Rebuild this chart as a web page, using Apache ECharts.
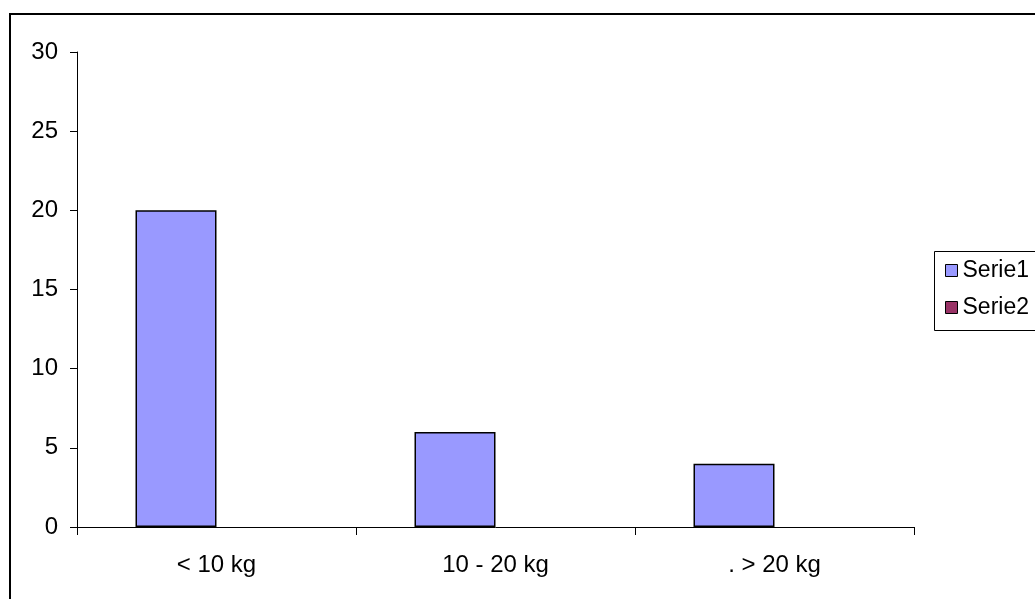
<!DOCTYPE html>
<html>
<head>
<meta charset="utf-8">
<script src="https://cdn.jsdelivr.net/npm/echarts@6/dist/echarts.min.js"></script>
<style>html,body{margin:0;padding:0;background:#fff;}#c{width:1035px;height:599px;}</style>
</head>
<body>
<div id="c"></div>
<script>
const categories = ['< 10 kg', '10 - 20 kg', '. > 20 kg'];
const serie1 = [20, 6, 4];
const serie2 = [0, 0, 0];
const seriesNames = ['Serie1', 'Serie2'];

const FONT = 'Liberation Sans, Arial, sans-serif';
const chart = echarts.init(document.getElementById('c'), null, {renderer: 'canvas'});
chart.setOption({
  animation: false,
  backgroundColor: '#fff',
  grid: {left: 77, right: 121, top: 52, bottom: 72, containLabel: false},
  graphic: [
    {type: 'rect', shape: {x: 10, y: 14, width: 1100, height: 700}, style: {fill: 'none', stroke: '#000', lineWidth: 2}, z: 100},
    {type: 'rect', shape: {x: 934.5, y: 251.5, width: 200, height: 79}, style: {fill: 'none', stroke: '#000', lineWidth: 1}, z: 100}
  ],
  legend: {
    orient: 'vertical',
    left: 945, top: 259,
    padding: 0,
    itemWidth: 12, itemHeight: 12, itemGap: 14,
    textStyle: {fontFamily: FONT, fontSize: 23, color: '#000', lineHeight: 23},
    data: [
      {name: seriesNames[0], icon: 'rect', itemStyle: {color: '#9999FF', borderColor: '#000', borderWidth: 1}},
      {name: seriesNames[1], icon: 'rect', itemStyle: {color: '#993366', borderColor: '#000', borderWidth: 1}}
    ]
  },
  xAxis: {
    type: 'category',
    data: categories,
    axisLine: {lineStyle: {color: '#000', width: 1}},
    axisTick: {show: true, length: 8, alignWithLabel: false, lineStyle: {color: '#000'}},
    axisLabel: {fontFamily: FONT, fontSize: 24, color: '#000', margin: 26},
    splitLine: {show: false}
  },
  yAxis: {
    type: 'value',
    min: 0, max: 30, interval: 5,
    axisLine: {show: true, lineStyle: {color: '#000', width: 1}},
    axisTick: {show: true, length: 7, lineStyle: {color: '#000'}},
    axisLabel: {fontFamily: FONT, fontSize: 24, color: '#000', margin: 19},
    splitLine: {show: false}
  },
  series: [
    {name: seriesNames[0], type: 'bar', data: serie1, barWidth: 81, barGap: '0%',
     itemStyle: {color: '#9999FF', borderColor: '#000', borderWidth: 1.5}},
    {name: seriesNames[1], type: 'bar', data: serie2, barWidth: 81, barGap: '0%',
     itemStyle: {color: '#993366', borderColor: '#000', borderWidth: 0}}
  ]
});
</script>
</body>
</html>
